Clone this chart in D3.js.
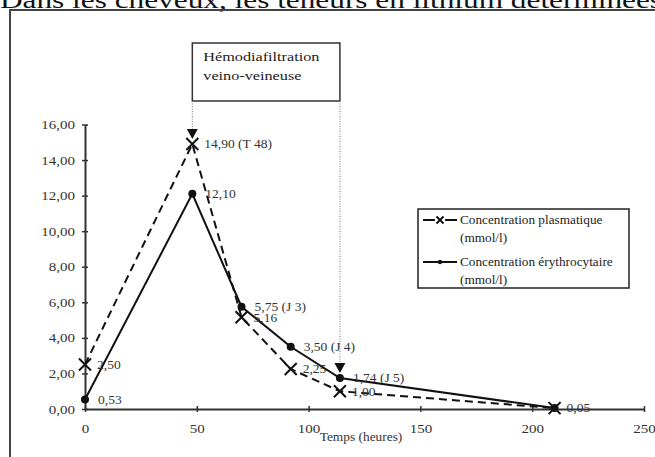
<!DOCTYPE html>
<html lang="fr">
<head>
<meta charset="utf-8">
<title>Lithium</title>
<script src="https://d3js.org/d3.v7.min.js"></script>
<style>
  body { margin: 0; background: white; }
  svg { font-family: "Liberation Serif", "DejaVu Serif", serif; }
  .axis path, .axis line { stroke: #333; }
  .axis text { fill: #333; font-size: 12.5px; font-family: "Liberation Serif", serif; }
  .ptlabel { fill: #333; font-size: 12.5px; }
</style>
</head>
<body>
<div id="chart"></div>
<script>
// data
var hours = [0, 48, 70, 92, 114, 210];
var plasma = [2.50, 14.90, 5.16, 2.25, 1.00, 0.05];
var erythro = [0.53, 12.10, 5.75, 3.50, 1.74, 0.05];
var plasmaLabels = ["2,50", "14,90 (T 48)", "5,16", "2,25", "1,00", "0,05"];
var erythroLabels = ["0,53", "12,10", "5,75 (J 3)", "3,50 (J 4)", "1,74 (J 5)", ""];
var xTicks = [0, 50, 100, 150, 200, 250];
var yTicks = [0, 2, 4, 6, 8, 10, 12, 14, 16];
var arrowHours = [48, 114];
var arrowValues = [14.90, 1.74];
var legendLabels = [["Concentration plasmatique", "(mmol/l)"], ["Concentration érythrocytaire", "(mmol/l)"]];

var W = 655, H = 457;
var svg = d3.select("#chart").append("svg")
  .attr("width", W).attr("height", H);

// the scanned picture is a bit wider than tall, so text gets stretched
function stretch(sel, k) {
  sel.each(function() {
    var len = this.getComputedTextLength();
    d3.select(this).attr("textLength", len * k).attr("lengthAdjust", "spacingAndGlyphs");
  });
}

// page heading, cut at the top
svg.append("text")
  .attr("x", 0).attr("y", 8)
  .attr("font-size", 24)
  .attr("textLength", 662)
  .attr("lengthAdjust", "spacingAndGlyphs")
  .attr("fill", "#111")
  .text("Dans les cheveux, les teneurs en lithium déterminées");

// frame
svg.append("path")
  .attr("d", "M10,457 V10 H655")
  .attr("fill", "none").attr("stroke", "#444").attr("stroke-width", 2);

var x = d3.scaleLinear().domain([0, 250]).range([85, 644]);
var y = d3.scaleLinear().domain([0, 16]).range([409, 124.5]);
var fr = d3.formatLocale({decimal: ",", thousands: " ", grouping: [3], currency: ["", " €"]});
var f2 = fr.format(".2f");

// axes
var gx = svg.append("g").attr("class", "axis")
  .attr("transform", "translate(0," + y(0) + ")")
  .call(d3.axisBottom(x).tickValues(xTicks).tickSize(3).tickSizeOuter(0).tickPadding(12));
gx.select(".domain").attr("stroke-width", 2);
gx.selectAll(".tick line").attr("y1", -3).attr("stroke-width", 1.5);
stretch(gx.selectAll(".tick text"), 1.2);

var gy = svg.append("g").attr("class", "axis")
  .attr("transform", "translate(" + x(0) + ",0)")
  .call(d3.axisLeft(y).tickValues(yTicks).tickFormat(f2).tickSize(3).tickSizeOuter(0).tickPadding(7));
gy.select(".domain").attr("stroke-width", 2);
gy.selectAll(".tick line").attr("x1", 3).attr("stroke-width", 1.5);
stretch(gy.selectAll(".tick text"), 1.2);

svg.append("text")
  .attr("x", 361).attr("y", 441)
  .attr("text-anchor", "middle")
  .attr("font-size", 12.5).attr("fill", "#333")
  .text("Temps (heures)")
  .call(stretch, 1.07);

// hemodiafiltration box + arrows
var boxTop = 43, boxBottom = 101;
svg.append("rect")
  .attr("x", x(arrowHours[0])).attr("y", boxTop)
  .attr("width", x(arrowHours[1]) - x(arrowHours[0])).attr("height", boxBottom - boxTop)
  .attr("fill", "white").attr("stroke", "#333").attr("stroke-width", 1.5);
svg.append("text").attr("x", x(arrowHours[0]) + 11).attr("y", 61)
  .attr("font-size", 13.5).attr("fill", "#222").text("Hémodiafiltration")
  .call(stretch, 1.2);
svg.append("text").attr("x", x(arrowHours[0]) + 11).attr("y", 80)
  .attr("font-size", 13.5).attr("fill", "#222").text("veino-veineuse")
  .call(stretch, 1.2);

arrowHours.forEach(function(h, i) {
  var ax = x(h), tip = y(arrowValues[i]) - 5;
  svg.append("line")
    .attr("x1", ax).attr("x2", ax).attr("y1", boxBottom).attr("y2", tip - 9)
    .attr("stroke", "#777").attr("stroke-width", 1).attr("stroke-dasharray", "1,1.5");
  svg.append("path")
    .attr("d", "M" + (ax - 5.5) + "," + (tip - 10) + " L" + (ax + 5.5) + "," + (tip - 10) + " L" + ax + "," + tip + " Z")
    .attr("fill", "#111");
});

var line = d3.line().x(function(d) { return x(d[0]); }).y(function(d) { return y(d[1]); });
var pData = hours.map(function(h, i) { return [h, plasma[i]]; });
var eData = hours.map(function(h, i) { return [h, erythro[i]]; });

svg.append("path").datum(pData).attr("d", line)
  .attr("fill", "none").attr("stroke", "#111").attr("stroke-width", 2)
  .attr("stroke-dasharray", "8,5");
svg.append("path").datum(eData).attr("d", line)
  .attr("fill", "none").attr("stroke", "#111").attr("stroke-width", 2);

function cross(g, cx, cy, s) {
  g.append("path")
    .attr("d", "M" + (cx - s) + "," + (cy - s) + "L" + (cx + s) + "," + (cy + s) +
               "M" + (cx - s) + "," + (cy + s) + "L" + (cx + s) + "," + (cy - s))
    .attr("stroke", "#111").attr("stroke-width", 2).attr("fill", "none");
}

pData.forEach(function(d) { cross(svg, x(d[0]), y(d[1]), 6); });
svg.selectAll("circle.ery").data(eData).enter().append("circle")
  .attr("class", "ery")
  .attr("cx", function(d) { return x(d[0]); })
  .attr("cy", function(d) { return y(d[1]); })
  .attr("r", 4).attr("fill", "#111");

// point labels
pData.forEach(function(d, i) {
  svg.append("text").attr("class", "ptlabel")
    .attr("x", x(d[0]) + 12).attr("y", y(d[1])).attr("dy", "0.35em")
    .text(plasmaLabels[i])
    .call(stretch, 1.08);
});
eData.forEach(function(d, i) {
  if (!erythroLabels[i]) return;
  svg.append("text").attr("class", "ptlabel")
    .attr("x", x(d[0]) + 13).attr("y", y(d[1])).attr("dy", "0.35em")
    .text(erythroLabels[i])
    .call(stretch, 1.08);
});

// legend
var lg = svg.append("g");
lg.append("rect").attr("x", 418).attr("y", 209).attr("width", 211).attr("height", 79)
  .attr("fill", "white").attr("stroke", "#222").attr("stroke-width", 1.5);
legendLabels.forEach(function(lab, i) {
  var ly = 220 + i * 42;
  lg.append("line").attr("x1", 423).attr("x2", 457).attr("y1", ly).attr("y2", ly)
    .attr("stroke", "#111").attr("stroke-width", 2);
  if (i === 0) {
    lg.append("rect").attr("x", 435).attr("y", ly - 4).attr("width", 10).attr("height", 8).attr("fill", "white");
    cross(lg, 440, ly, 3.5);
  } else {
    lg.append("circle").attr("cx", 440).attr("cy", ly).attr("r", 2.2).attr("fill", "#111");
  }
  lg.append("text").attr("x", 460).attr("y", ly + 4)
    .attr("font-size", 12.5).attr("fill", "#222").text(lab[0])
    .call(stretch, 1.06);
  lg.append("text").attr("x", 460).attr("y", ly + 22)
    .attr("font-size", 12.5).attr("fill", "#222").text(lab[1])
    .call(stretch, 1.06);
});
</script>
</body>
</html>
